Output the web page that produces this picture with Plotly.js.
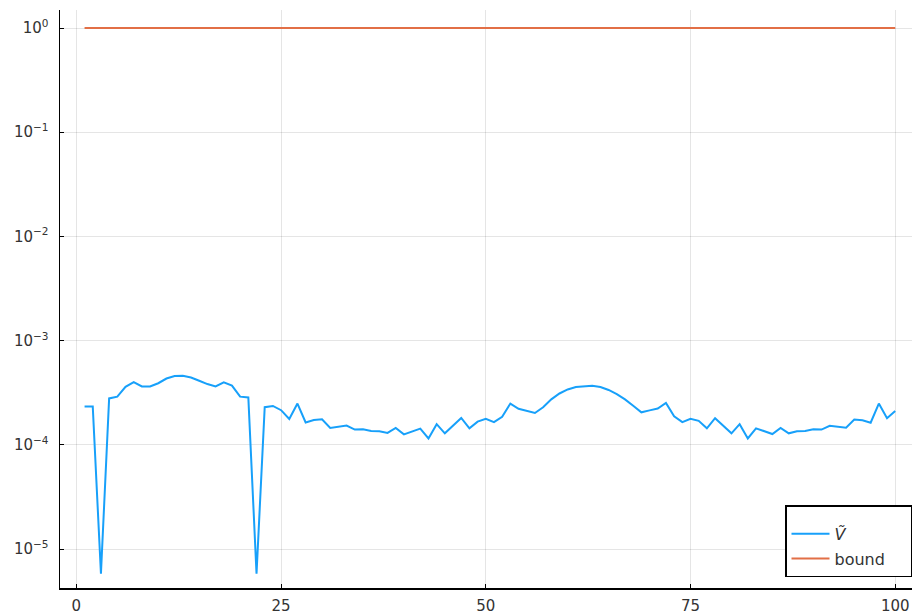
<!DOCTYPE html>
<html>
<head>
<meta charset="utf-8">
<script src="https://cdn.plot.ly/plotly-3.0.1.min.js"></script>
<style>html,body{margin:0;padding:0;background:#fff;}#plot{width:914px;height:614px;}</style>
</head>
<body>
<div id="plot"></div>
<script>
const xIndex = Array.from({length: 100}, (_, k) => k + 1);
const vTilde = [
  2.33e-4, 2.33e-4, 5.8e-6, 2.79e-4, 2.9e-4, 3.6e-4, 4.0e-4, 3.63e-4, 3.63e-4, 3.9e-4,
  4.33e-4, 4.57e-4, 4.6e-4, 4.43e-4, 4.12e-4, 3.83e-4, 3.63e-4, 3.98e-4, 3.7e-4, 2.9e-4,
  2.85e-4, 5.8e-6, 2.3e-4, 2.36e-4, 2.15e-4, 1.77e-4, 2.49e-4, 1.64e-4, 1.73e-4, 1.76e-4,
  1.45e-4, 1.48e-4, 1.53e-4, 1.40e-4, 1.41e-4, 1.36e-4, 1.35e-4, 1.30e-4, 1.45e-4, 1.26e-4,
  1.34e-4, 1.43e-4, 1.15e-4, 1.58e-4, 1.29e-4, 1.52e-4, 1.81e-4, 1.44e-4, 1.67e-4, 1.78e-4,
  1.65e-4, 1.86e-4, 2.49e-4, 2.22e-4, 2.12e-4, 2.02e-4, 2.29e-4, 2.73e-4, 3.11e-4, 3.40e-4,
  3.59e-4, 3.66e-4, 3.68e-4, 3.59e-4, 3.36e-4, 3.07e-4, 2.73e-4, 2.37e-4, 2.05e-4, 2.14e-4,
  2.23e-4, 2.52e-4, 1.88e-4, 1.65e-4, 1.78e-4, 1.70e-4, 1.44e-4, 1.80e-4, 1.52e-4, 1.29e-4,
  1.58e-4, 1.15e-4, 1.44e-4, 1.36e-4, 1.27e-4, 1.45e-4, 1.29e-4, 1.35e-4, 1.36e-4, 1.41e-4,
  1.40e-4, 1.52e-4, 1.50e-4, 1.46e-4, 1.75e-4, 1.72e-4, 1.63e-4, 2.49e-4, 1.80e-4, 2.11e-4
];
const boundValues = xIndex.map(() => 1.0);
const seriesNames = ["<i>V\u0303</i>", "bound\u00A0\u00A0\u00A0\u00A0"];
const xTickVals = [0, 25, 50, 75, 100];
const yTickVals = [1, 0.1, 0.01, 0.001, 0.0001, 0.00001];
const yTickText = ["10<sup>0</sup>", "10<sup>\u22121</sup>", "10<sup>\u22122</sup>", "10<sup>\u22123</sup>", "10<sup>\u22124</sup>", "10<sup>\u22125</sup>"];

const traces = [
  {x: xIndex, y: vTilde, name: seriesNames[0], type: "scatter", mode: "lines", legendgroup: "a",
   line: {color: "#17A0FA", width: 2}},
  {x: xIndex, y: boundValues, name: seriesNames[1], type: "scatter", mode: "lines", legendgroup: "b",
   line: {color: "#E26F46", width: 2}}
];

const layout = {
  width: 914, height: 614,
  margin: {l: 60, r: 2, t: 10, b: 26, pad: 0},
  paper_bgcolor: "#fff", plot_bgcolor: "#fff",
  font: {family: "DejaVu Sans, sans-serif", size: 15, color: "#333"},
  showlegend: true,
  legend: {
    x: 1.0, y: 0.019, xanchor: "right", yanchor: "bottom",
    bgcolor: "#fff", bordercolor: "#000", borderwidth: 1.5,
    font: {size: 16, color: "#333"}, traceorder: "grouped", tracegroupgap: 1,
    itemwidth: 38,
    title: {text: "\u00A0", font: {size: 8}}
  },
  xaxis: {
    range: [-2.0, 102.05], tickvals: xTickVals, ticktext: xTickVals.map(String),
    showgrid: true, gridcolor: "rgba(0,0,0,0.1)", gridwidth: 1,
    zeroline: false, showline: true, linecolor: "#000", linewidth: 1.5,
    ticks: "inside", ticklen: 4, tickcolor: "#000", mirror: false,
    tickfont: {size: 15, color: "#333"}, ticklabelstandoff: 3
  },
  yaxis: {
    type: "log", range: [-5.374, 0.173], tickvals: yTickVals, ticktext: yTickText,
    showgrid: true, gridcolor: "rgba(0,0,0,0.1)", gridwidth: 1,
    zeroline: false, showline: true, linecolor: "#000", linewidth: 1.5,
    ticks: "inside", ticklen: 4, tickcolor: "#000", mirror: false,
    tickfont: {size: 15, color: "#333"}, ticklabelstandoff: 7
  }
};

Plotly.newPlot("plot", traces, layout, {displayModeBar: false, staticPlot: true});
</script>
</body>
</html>
